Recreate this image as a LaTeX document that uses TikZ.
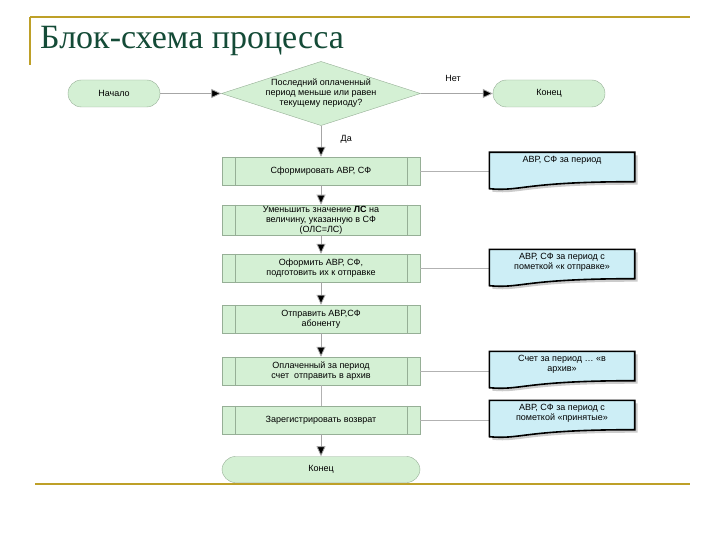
\documentclass[tikz,border=0pt]{standalone}
\usepackage{fontspec}
\setmainfont{Liberation Sans}
\newfontfamily\titlefont{Liberation Serif}
\usetikzlibrary{shapes.geometric,arrows.meta}
\definecolor{gfill}{RGB}{212,240,212}
\definecolor{gdraw}{RGB}{150,175,150}
\definecolor{bfill}{RGB}{205,238,246}
\definecolor{gold}{RGB}{190,160,40}
\definecolor{ttl}{RGB}{20,75,55}
\tikzset{
  every node/.style={font=\fontsize{9}{10}\selectfont, align=center},
  term/.style={draw=gdraw, fill=gfill, rounded corners=13.5pt, minimum height=27pt},
  dec/.style={diamond, draw=gdraw, fill=gfill, aspect=3.1, minimum width=195pt, minimum height=63pt, inner sep=0pt},
  proc/.style={draw=gdraw, fill=gfill, minimum width=198pt, minimum height=28pt, inner sep=1pt},
  doc/.style={minimum width=145pt, minimum height=29pt, inner sep=1pt, anchor=center},
  flow/.style={draw=gray!70, line width=0.8pt, -{Triangle[length=10pt,width=9pt,fill=black]}},
  link/.style={draw=gray!60, line width=0.8pt}
}
\newcommand\subbars[1]{\draw[gdraw] ([xshift=13pt]#1.north west) -- ([xshift=13pt]#1.south west) ([xshift=-13pt]#1.north east) -- ([xshift=-13pt]#1.south east);}
\newcommand\docshape[1]{%
  \fill[gray!40] ([xshift=3pt,yshift=-3pt]#1.north west) -- ([xshift=3pt,yshift=-3pt]#1.north east) -- ([xshift=3pt,yshift=-3pt]#1.south east) .. controls ([xshift=-40pt,yshift=-3pt]#1.south) and ([xshift=-40pt,yshift=-13pt]#1.south) .. ([xshift=3pt,yshift=-10pt]#1.south west) -- cycle;
  \draw[black, line width=1.6pt, fill=bfill] (#1.north west) -- (#1.north east) -- (#1.south east) .. controls ([xshift=-40pt]#1.south) and ([xshift=-40pt,yshift=-10pt]#1.south) .. ([yshift=-7pt]#1.south west) -- cycle;
  \node[anchor=north, inner sep=0pt] at ([yshift=-4pt]#1.north) {\csname doctext#1\endcsname};}
\begin{document}
\begin{tikzpicture}[x=1pt,y=-1pt]
\useasboundingbox (0,0) rectangle (720,540);
\fill[white] (0,0) rectangle (720,540);
\draw[gold, line width=1.2pt] (30,17) -- (690,17);
\draw[gold, line width=1.2pt] (30,17) -- (30,65);
\draw[gold, line width=1.2pt] (35,484) -- (690,484);
\node[anchor=base west, font=\titlefont\fontsize{34}{36}\selectfont, text=ttl, inner sep=0pt] (title) at (40,49) {Блок-схема процесса};

\node[term, minimum width=92pt] (start) at (114,93.5) {Начало};
\node[dec] (q) at (321,93.5) {Последний оплаченный\\период меньше или равен\\текущему периоду?};
\node[term, minimum width=112pt] (end1) at (549,93.5) {Конец};
\node[proc] (p1) at (321,171) {Сформировать АВР, СФ};
\node[proc] (p2) at (321,220) {Уменьшить значение \textbf{ЛС} на\\величину, указанную в СФ\\(ОЛС=ЛС)};
\node[proc] (p3) at (321,268) {Оформить АВР, СФ,\\подготовить их к отправке};
\node[proc] (p4) at (321,319) {Отправить АВР,СФ\\абоненту};
\node[proc] (p5) at (321,371) {Оплаченный за период\\счет \ отправить в архив};
\node[proc] (p6) at (321,420) {Зарегистрировать возврат};
\node[term, minimum width=198pt, minimum height=26pt] (end2) at (321,469.5) {Конец};
\foreach \p in {p1,p2,p3,p4,p5,p6}{\subbars{\p}}

\node[doc] (d1) at (562,167) {};
\node[doc] (d2) at (562,264) {};
\node[doc] (d3) at (562,366) {};
\node[doc] (d4) at (562,415) {};
\draw[link] (p1.east) -- (d1.west |- p1.east);
\draw[link] (p3.east) -- (d2.west |- p3.east);
\draw[link] (p5.east) -- (d3.west |- p5.east);
\draw[link] (p6.east) -- (d4.west |- p6.east);
\expandafter\def\csname doctextd1\endcsname{АВР, СФ за период}
\expandafter\def\csname doctextd2\endcsname{АВР, СФ за период с\\пометкой «к отправке»}
\expandafter\def\csname doctextd3\endcsname{Счет за период \dots\ «в\\архив»}
\expandafter\def\csname doctextd4\endcsname{АВР, СФ за период с\\пометкой «принятые»}
\docshape{d1}\docshape{d2}\docshape{d3}\docshape{d4}

\draw[flow] (start) -- (q);
\draw[flow] (q) -- node[above=8pt, pos=0.45] (no) {Нет} (end1);
\draw[flow] (q) -- node[right=16pt, pos=0.45] (yes) {Да} (p1);
\draw[flow] (p1) -- (p2);
\draw[flow] (p2) -- (p3);
\draw[flow] (p3) -- (p4);
\draw[flow] (p4) -- (p5);
\draw[link] (p5) -- (p6);
\draw[flow] (p6) -- (end2);
\end{tikzpicture}
\end{document}
